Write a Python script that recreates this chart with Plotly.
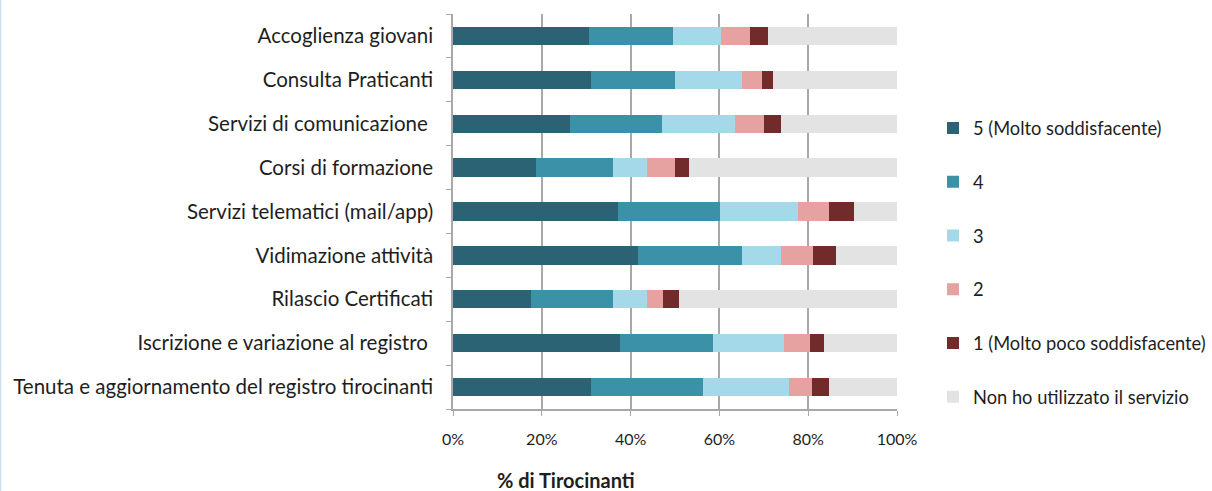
import plotly.graph_objects as go

# Services rated by trainees (top to bottom as displayed)
services = [
    "Accoglienza giovani",
    "Consulta Praticanti",
    "Servizi di comunicazione ",
    "Corsi di formazione",
    "Servizi telematici (mail/app)",
    "Vidimazione attività",
    "Rilascio Certificati",
    "Iscrizione e variazione al registro ",
    "Tenuta e aggiornamento del registro tirocinanti",
]

# Share of trainees (%) for each rating
voto_5 = [30.7, 31.1, 26.4, 18.7, 37.1, 41.7, 17.5, 37.7, 31.1]
voto_4 = [18.9, 19.0, 20.7, 17.3, 23.1, 23.4, 18.5, 20.9, 25.3]
voto_3 = [10.7, 15.0, 16.3, 7.8, 17.4, 8.7, 7.8, 16.0, 19.2]
voto_2 = [6.6, 4.6, 6.7, 6.2, 7.1, 7.3, 3.6, 5.8, 5.3]
voto_1 = [4.1, 2.4, 3.7, 3.2, 5.6, 5.1, 3.4, 3.1, 3.8]
non_usato = [29.0, 27.9, 26.2, 46.8, 9.7, 13.8, 49.2, 16.5, 15.3]

series = [
    ("5 (Molto soddisfacente)", voto_5, "#2b6374"),
    ("4", voto_4, "#3a91a8"),
    ("3", voto_3, "#a3d9e8"),
    ("2", voto_2, "#e6a1a1"),
    ("1 (Molto poco soddisfacente)", voto_1, "#722b2b"),
    ("Non ho utilizzato il servizio", non_usato, "#e3e3e3"),
]

x_ticks = [0, 20, 40, 60, 80, 100]
x_ticklabels = ["0%", "20%", "40%", "60%", "80%", "100%"]

FONT = "Lato"
TEXT = "#1e1e1e"
GRID = "#a8a8a8"

fig = go.Figure()
for i, (name, vals, col) in enumerate(series):
    fig.add_trace(go.Bar(
        y=services,
        x=vals,
        name=name,
        orientation="h",
        marker=dict(color=col, line=dict(width=0)),
        legendgroup=f"g{i}",
    ))

W, H = 1212, 491
ML, MR, MT, MB = 453, 315, 14, 82
pw = W - ML - MR
ph = H - MT - MB

fig.update_layout(
    width=W,
    height=H,
    margin=dict(l=ML, r=MR, t=MT, b=MB, pad=0, autoexpand=False),
    barmode="stack",
    bargap=0.58,
    paper_bgcolor="white",
    plot_bgcolor="white",
    font=dict(family=FONT, size=16, color=TEXT),
    showlegend=True,
    legend=dict(
        x=(933 - ML) / pw,
        xanchor="left",
        y=(MT + ph - 109.5) / ph,
        yanchor="top",
        font=dict(family=FONT, size=18.3, color=TEXT),
        tracegroupgap=27,
        itemwidth=30,
        traceorder="grouped",
        bgcolor="rgba(0,0,0,0)",
    ),
    xaxis=dict(
        range=[0, 100],
        tickvals=x_ticks,
        ticktext=x_ticklabels,
        showgrid=True,
        gridcolor=GRID,
        gridwidth=1.5,
        showline=True,
        linecolor=GRID,
        linewidth=1.5,
        ticks="outside",
        ticklen=5,
        tickcolor=GRID,
        ticklabelstandoff=10,
        zeroline=False,
        tickfont=dict(family=FONT, size=16, color=TEXT),
    ),
    yaxis=dict(
        categoryorder="array",
        categoryarray=services[::-1],
        autorange=True,
        showline=True,
        linecolor=GRID,
        linewidth=1.5,
        ticks="outside",
        ticklen=5,
        tickcolor=GRID,
        tickson="boundaries",
        ticklabelstandoff=14,
        showgrid=False,
        tickfont=dict(family=FONT, size=20.5, color=TEXT),
    ),
    annotations=[
        dict(
            text="<b>% di Tirocinanti</b>",
            xref="paper", yref="paper",
            x=(566 - ML) / pw, y=-(480 - MT - ph) / ph,
            xanchor="center", yanchor="middle",
            showarrow=False,
            font=dict(family=FONT, size=20, color=TEXT),
        )
    ],
    shapes=[
        dict(
            type="line", xref="paper", yref="paper",
            x0=-(ML - 0.5) / pw, x1=-(ML - 0.5) / pw,
            y0=-MB / ph, y1=(ph + MT) / ph,
            line=dict(color="#c9dff0", width=1.5),
        )
    ],
)

fig.write_html("out.html")
